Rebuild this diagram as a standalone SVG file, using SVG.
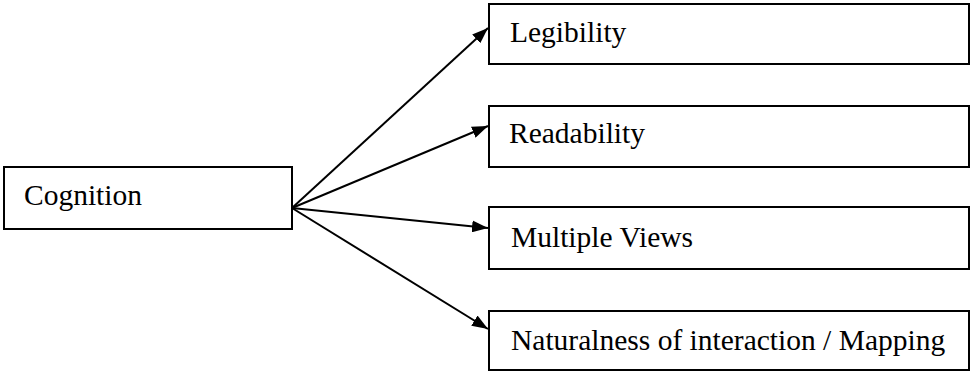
<svg xmlns="http://www.w3.org/2000/svg" width="971" height="372" viewBox="0 0 971 372">
  <style>
    .box { fill: #fff; stroke: #000; stroke-width: 2; }
    .label { font-family: "Liberation Serif", "Times New Roman", serif; font-size: 29.5px; fill: #000; }
    .edge { stroke: #000; stroke-width: 2; fill: none; marker-end: url(#arrow); }
  </style>
  <defs>
    <marker id="arrow" markerWidth="8" markerHeight="6" refX="8" refY="3" orient="auto" markerUnits="strokeWidth">
      <path d="M0,0 L8,3 L0,6 Z" fill="#000"/>
    </marker>
  </defs>
  <rect width="971" height="372" fill="#fff"/>

  <g id="connectors">
    <line class="edge" x1="292" y1="208" x2="488" y2="28"/>
    <line class="edge" x1="292" y1="208" x2="488" y2="126"/>
    <line class="edge" x1="292" y1="208" x2="488" y2="228"/>
    <line class="edge" x1="292" y1="208" x2="488" y2="329"/>
  </g>

  <g id="cognition">
    <rect class="box" x="4" y="167" width="288" height="62"/>
    <text class="label" x="24" y="205">Cognition</text>
  </g>
  <g id="legibility">
    <rect class="box" x="489" y="4" width="480" height="60"/>
    <text class="label" x="510" y="42">Legibility</text>
  </g>
  <g id="readability">
    <rect class="box" x="489" y="106" width="480" height="61"/>
    <text class="label" x="509" y="143">Readability</text>
  </g>
  <g id="multiple-views">
    <rect class="box" x="489" y="207" width="480" height="62"/>
    <text class="label" x="511" y="247">Multiple Views</text>
  </g>
  <g id="naturalness">
    <rect class="box" x="489" y="311" width="480" height="59"/>
    <text class="label" x="511" y="350">Naturalness of interaction / Mapping</text>
  </g>
</svg>
